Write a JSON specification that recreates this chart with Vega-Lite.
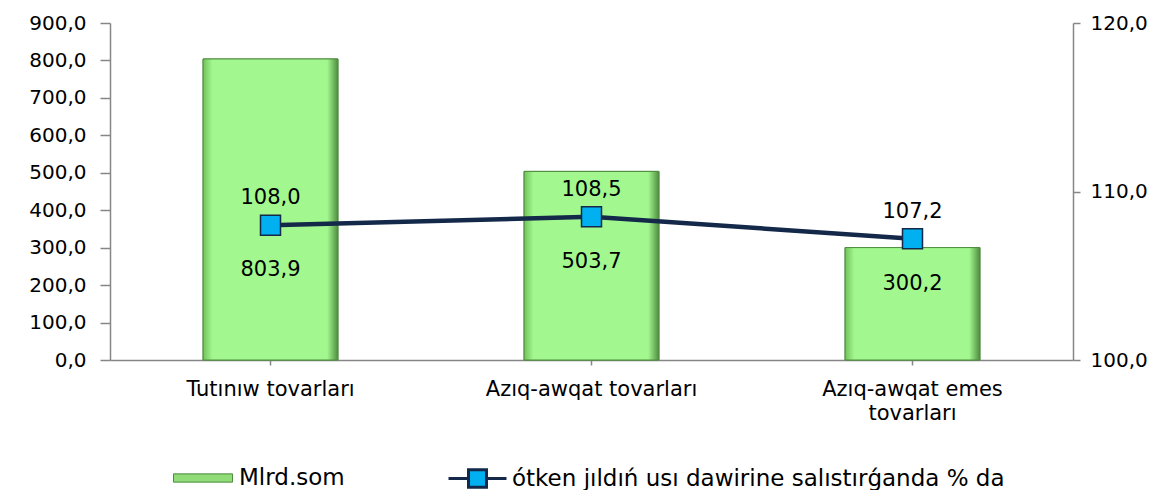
{
  "$schema": "https://vega.github.io/schema/vega-lite/v6.json",
  "width": 963,
  "height": 337,
  "autosize": "none",
  "padding": {"left": 110, "top": 23, "right": 101, "bottom": 130},
  "background": "white",
  "config": {
    "locale": {"number": {"decimal": ",", "thousands": " ", "grouping": [3], "currency": ["", ""]}},
    "view": {"stroke": null},
    "font": "DejaVu Sans",
    "axis": {"grid": false, "domainColor": "#868686", "tickColor": "#868686", "labelColor": "#000000", "labelFont": "DejaVu Sans", "labelFontSize": 20, "title": null, "domainWidth": 1.5, "tickWidth": 1.5}
  },
  "data": {
    "values": [
      {"cat": "Tutınıw tovarları", "mlrd": 803.9, "pct": 108.0, "s1": "Mlrd.som", "s2": "ótken jıldıń usı dawirine salıstırǵanda  % da"},
      {"cat": "Azıq-awqat tovarları", "mlrd": 503.7, "pct": 108.5, "s1": "Mlrd.som", "s2": "ótken jıldıń usı dawirine salıstırǵanda  % da"},
      {"cat": "Azıq-awqat emes tovarları", "mlrd": 300.2, "pct": 107.2, "s1": "Mlrd.som", "s2": "ótken jıldıń usı dawirine salıstırǵanda  % da"}
    ]
  },
  "encoding": {
    "x": {
      "field": "cat",
      "type": "nominal",
      "sort": null,
      "scale": {"paddingInner": 0.58, "paddingOuter": 0.29},
      "axis": {
        "labelAngle": 0,
        "tickSize": 5,
        "labelPadding": 13,
        "labelFontSize": 21,
        "labelBaseline": "top",
        "labelLineHeight": 24,
        "labelLimit": 500,
        "title": null,
        "labelExpr": "datum.label == 'Azıq-awqat emes tovarları' ? ['Azıq-awqat emes', 'tovarları'] : datum.label"
      }
    }
  },
  "layer": [
    {
      "layer": [
        {
          "mark": {"type": "bar", "stroke": "#4f8c40", "strokeWidth": 1},
          "encoding": {
            "fill": {
              "field": "s1",
              "type": "nominal",
              "scale": {"range": ["#8fdc78"]},
              "legend": {
                "orient": "none",
                "legendX": 63,
                "legendY": 425,
                "title": null,
                "symbolType": "M-1,-0.14H1V0.14H-1Z",
                "symbolSize": 3481,
                "symbolStrokeColor": "#4f8c40",
                "symbolStrokeWidth": 1,
                "labelFontSize": 23,
                "labelFont": "DejaVu Sans",
                "labelColor": "#000000",
                "labelOffset": 6
              }
            }
          }
        },
        {
          "mark": {
            "type": "bar",
            "stroke": "#4f8c40",
            "strokeWidth": 1,
            "fill": {
              "gradient": "linear", "x1": 0, "x2": 1, "y1": 0, "y2": 0,
              "stops": [
                {"offset": 0, "color": "#72c25c"},
                {"offset": 0.07, "color": "#a2f88e"},
                {"offset": 0.92, "color": "#a2f88e"},
                {"offset": 1, "color": "#4f8c40"}
              ]
            }
          }
        }
      ],
      "encoding": {
        "y": {
          "field": "mlrd",
          "type": "quantitative",
          "scale": {"domain": [0, 900]},
          "axis": {"orient": "left", "values": [0, 100, 200, 300, 400, 500, 600, 700, 800, 900], "format": ".1f", "tickSize": 10, "labelPadding": 14}
        }
      }
    },
    {
      "layer": [
        {
          "mark": {"type": "line", "strokeWidth": 4.5},
          "encoding": {
            "stroke": {
              "field": "s2",
              "type": "nominal",
              "scale": {"range": ["#14284a"]},
              "legend": {
                "orient": "none",
                "legendX": 337,
                "legendY": 425,
                "title": null,
                "symbolType": "M-1,0H-0.31M0.31,0H1M-0.31,-0.3H0.31V0.3H-0.31Z",
                "symbolSize": 3364,
                "labelFontSize": 23,
                "labelFont": "DejaVu Sans",
                "labelColor": "#000000",
                "labelOffset": 4,
                "labelLimit": 700,
                "encode": {"symbols": {"update": {"fill": {"value": "#00b0f0"}, "strokeWidth": {"value": 3}, "stroke": {"value": "#14284a"}}}}
              }
            }
          }
        },
        {
          "mark": {"type": "point", "shape": "square", "filled": true, "fill": "#00b0f0", "stroke": "#14284a", "strokeWidth": 1.5, "size": 400, "opacity": 1}
        },
        {
          "mark": {"type": "text", "dy": -27, "fontSize": 21, "baseline": "middle", "color": "#000000"},
          "encoding": {"text": {"field": "pct", "type": "quantitative", "format": ".1f"}}
        },
        {
          "mark": {"type": "text", "dy": 45, "fontSize": 21, "baseline": "middle", "color": "#000000"},
          "encoding": {"text": {"field": "mlrd", "type": "quantitative", "format": ".1f"}}
        }
      ],
      "encoding": {
        "y": {
          "field": "pct",
          "type": "quantitative",
          "scale": {"domain": [100, 120]},
          "axis": {"orient": "right", "values": [100, 110, 120], "format": ".1f", "tickSize": 7, "labelPadding": 10}
        }
      }
    }
  ],
  "resolve": {"scale": {"y": "independent", "fill": "independent", "stroke": "independent"}}
}
